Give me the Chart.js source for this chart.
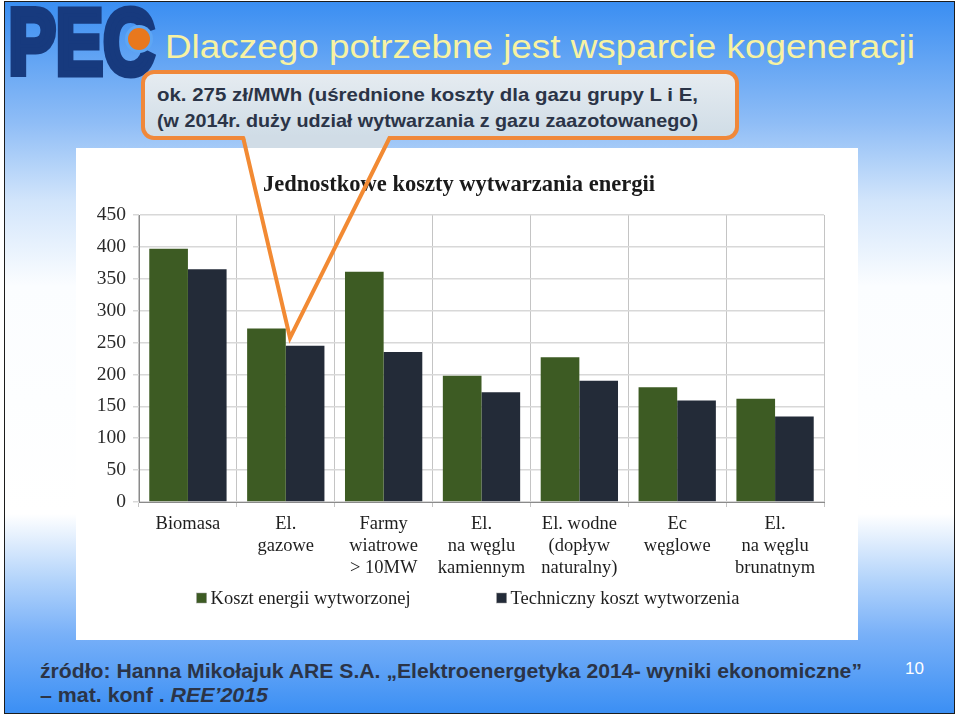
<!DOCTYPE html>
<html>
<head>
<meta charset="utf-8">
<script src="https://cdn.jsdelivr.net/npm/chart.js@4/dist/chart.umd.min.js"></script>
<style>
  html, body { margin: 0; padding: 0; width: 960px; height: 716px; overflow: hidden; background: #fff; }
  #frame {
    position: absolute; left: 4px; top: 1px; width: 951px; height: 713px;
    box-sizing: border-box; border: 1.5px solid #1c1c1c;
    background: linear-gradient(to bottom, #3a8ef2 0%, #8fbdf6 17%, #d2e5fb 28%, #fbfdff 40%, #ffffff 72%, #b5d5fb 81%, #78b0f8 89%, #3b8ff4 100%);
  }
  #chartBox { position: absolute; left: 76px; top: 148px; width: 782px; height: 492px; background: #fff; }
  svg { position: absolute; left: 0; top: 0; }
</style>
</head>
<body>
<div id="frame"></div>

<svg width="960" height="716" id="back">
  <defs>
    <linearGradient id="calloutFill" x1="0" y1="0" x2="0" y2="1">
      <stop offset="0" stop-color="#e6ecf1"/>
      <stop offset="1" stop-color="#cfdce6"/>
    </linearGradient>
  </defs>
  <!-- logo -->
  <text x="8.5" y="73.5" font-family="Liberation Sans" font-weight="bold" font-size="93" fill="#173a7e"
        stroke="#173a7e" stroke-width="7" stroke-linejoin="miter"
        textLength="146" lengthAdjust="spacingAndGlyphs">PEC</text>
  <circle cx="139" cy="39" r="14" fill="#5ea6f4"/>
  <circle cx="139" cy="39" r="11" fill="#e8781e"/>
  <!-- title -->
  <text x="165" y="58" font-family="Liberation Sans" font-size="34" fill="#f7f2a2"
        textLength="750" lengthAdjust="spacingAndGlyphs">Dlaczego potrzebne jest wsparcie kogeneracji</text>
  <!-- callout -->
  <rect x="143" y="72" width="594" height="66" rx="11" ry="11" fill="url(#calloutFill)" stroke="#f0883a" stroke-width="4"/>
  <text x="157" y="101" font-family="Liberation Sans" font-weight="bold" font-size="18.5" fill="#2b3447"
        textLength="541" lengthAdjust="spacingAndGlyphs">ok. 275 zł/MWh (uśrednione koszty dla gazu grupy L i E,</text>
  <text x="157" y="127" font-family="Liberation Sans" font-weight="bold" font-size="18.5" fill="#2b3447"
        textLength="541" lengthAdjust="spacingAndGlyphs">(w 2014r. duży udział wytwarzania z gazu zaazotowanego)</text>
  <!-- source -->
  <text x="40" y="678" font-family="Liberation Sans" font-weight="bold" font-size="20" fill="#2b3447"
        textLength="822" lengthAdjust="spacingAndGlyphs">źródło: Hanna Mikołajuk ARE S.A. „Elektroenergetyka 2014- wyniki ekonomiczne”</text>
  <text x="40" y="702" font-family="Liberation Sans" font-weight="bold" font-size="20" fill="#2b3447"
        textLength="228" lengthAdjust="spacingAndGlyphs">– mat. konf . <tspan font-style="italic">REE’2015</tspan></text>
  <text x="905" y="674" font-family="Liberation Sans" font-size="17" fill="#ffffff">10</text>
</svg>

<div id="chartBox"><canvas id="costChart" width="782" height="492"></canvas></div>

<svg width="960" height="716" id="front">
  <polygon points="244,135 389,135 384,148 248,148" fill="#d0dce6"/>
  <polyline points="243,137 290,338 390,137" fill="none" stroke="#f28a33" stroke-width="4" stroke-linejoin="miter"/>
</svg>

<script>
const categories = [
    ['Biomasa'],
    ['El.', 'gazowe'],
    ['Farmy', 'wiatrowe', '> 10MW'],
    ['El.', 'na węglu', 'kamiennym'],
    ['El. wodne', '(dopływ', 'naturalny)'],
    ['Ec', 'węglowe'],
    ['El.', 'na węglu', 'brunatnym']
];
const kosztEnergiiWytworzonej = [397, 272, 361, 198, 227, 180, 162];
const technicznyKosztWytworzenia = [365, 245, 235, 172, 190, 159, 134];
const seriesNames = ['Koszt energii wytworzonej', 'Techniczny koszt wytworzenia'];
const seriesColors = ['#3d5b23', '#232b38'];
const yMin = 0;
const yMax = 450;
const yStep = 50;

const serif = 'Liberation Serif';

// legend drawn under the axis labels, spaced like in the source picture
const bottomLegend = {
    id: 'bottomLegend',
    afterDraw(chart) {
        const ctx = chart.ctx;
        const items = chart.data.datasets;
        const box = 10, gap = 4, spacing = 86;
        ctx.save();
        ctx.font = `18.5px "${serif}"`;
        ctx.textBaseline = 'middle';
        const widths = items.map(d => box + gap + ctx.measureText(d.label).width);
        const total = widths.reduce((a, b) => a + b, 0) + spacing * (items.length - 1);
        let x = 392 - total / 2;
        const y = 450;
        items.forEach((d, i) => {
            ctx.fillStyle = d.backgroundColor;
            ctx.fillRect(x, y - box / 2, box, box);
            ctx.strokeStyle = '#999';
            ctx.lineWidth = 0.5;
            ctx.strokeRect(x, y - box / 2, box, box);
            ctx.fillStyle = '#1e1e1e';
            ctx.fillText(d.label, x + box + gap, y + 1);
            x += widths[i] + spacing;
        });
        ctx.restore();
    }
};

const ctx = document.getElementById('costChart').getContext('2d');
new Chart(ctx, {
    type: 'bar',
    data: {
        labels: categories,
        datasets: [
            {
                label: seriesNames[0],
                data: kosztEnergiiWytworzonej,
                backgroundColor: seriesColors[0],
                barPercentage: 1,
                categoryPercentage: 0.79
            },
            {
                label: seriesNames[1],
                data: technicznyKosztWytworzenia,
                backgroundColor: seriesColors[1],
                barPercentage: 1,
                categoryPercentage: 0.79
            }
        ]
    },
    options: {
        responsive: false,
        animation: false,
        layout: { padding: { left: 18, right: 34, top: 0, bottom: 0 } },
        plugins: {
            legend: { display: false },
            tooltip: { enabled: false },
            title: {
                display: true,
                text: 'Jednostkowe koszty wytwarzania energii',
                color: '#1a1a1a',
                font: { family: serif, size: 22.5, weight: 'bold' },
                padding: { top: 24, bottom: 16 }
            }
        },
        scales: {
            x: {
                grid: { offset: true, color: '#c4c4c4', lineWidth: 1, tickLength: 5 },
                border: { color: '#8a8a8a' },
                ticks: {
                    color: '#1e1e1e',
                    font: { family: serif, size: 18.5, lineHeight: 1.19 },
                    padding: 6,
                    maxRotation: 0,
                    autoSkip: false
                },
                afterFit: scale => { scale.height = 138; }
            },
            y: {
                min: yMin,
                max: yMax,
                ticks: {
                    stepSize: yStep,
                    color: '#2a2a2a',
                    font: { family: serif, size: 19.5 },
                    padding: 7
                },
                grid: { color: '#d8d8d8', lineWidth: 1.5, tickLength: 6 },
                border: { color: '#8a8a8a' },
                afterFit: scale => { scale.width = 45; }
            }
        }
    },
    plugins: [bottomLegend]
});
</script>
</body>
</html>
